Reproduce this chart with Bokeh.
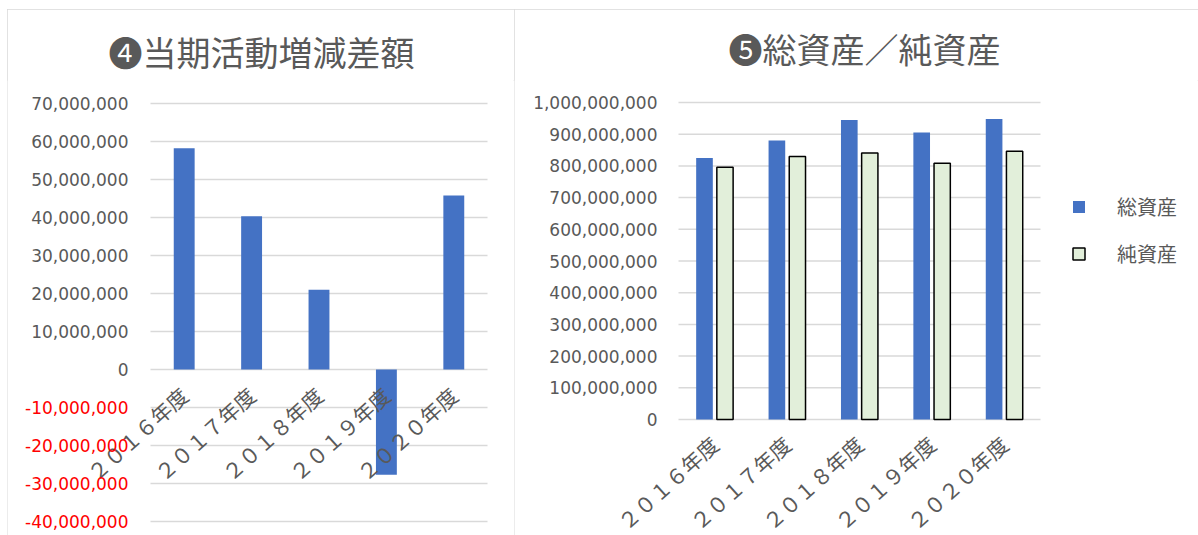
import math
from bokeh.plotting import figure
from bokeh.models import (ColumnDataSource, Range1d, FixedTicker, NumeralTickFormatter,
                          LinearAxis, Legend, LegendItem, Title, Spacer)
from bokeh.layouts import row, column
from bokeh.transform import dodge
from bokeh.embed import file_html
from bokeh.resources import INLINE

# ---------------- data ----------------
years = ["２０１６年度", "２０１７年度", "２０１８年度", "２０１９年度", "２０２０年度"]
activity_diff = [58_250_000, 40_300_000, 21_000_000, -27_700_000, 45_800_000]
total_assets = [825_000_000, 880_000_000, 945_000_000, 905_000_000, 948_000_000]
net_assets = [796_000_000, 830_000_000, 841_000_000, 808_000_000, 846_000_000]
left_ticks = [-40_000_000, -30_000_000, -20_000_000, -10_000_000, 0,
              10_000_000, 20_000_000, 30_000_000, 40_000_000, 50_000_000,
              60_000_000, 70_000_000]
right_ticks = [0, 100_000_000, 200_000_000, 300_000_000, 400_000_000, 500_000_000,
               600_000_000, 700_000_000, 800_000_000, 900_000_000, 1_000_000_000]
title_left = "❹当期活動増減差額"
title_right = "❺総資産／純資産"
legend_labels = ["総資産", "純資産"]

GRAY = "#595959"
GRID = "#D9D9D9"
BLUE = "#4472C4"
GREEN = "#E2EFDA"
NUMFONT = "DejaVu Sans"
JPFONT = "Noto Sans CJK JP"
H = 526          # figure height
TOP = 71         # space reserved for the title
LABEL_ANGLE = math.radians(42)
BOX = {"outline": "1px solid #D9D9D9", "outline-offset": "-1px"}

pos = list(range(1, len(years) + 1))      # category slots 1..n
area_left, area_right = 0.5, len(years) + 0.5


def style_axis(ax, standoff, font, size, color):
    ax.axis_line_color = None
    ax.major_tick_line_color = None
    ax.minor_tick_line_color = None
    ax.major_tick_out = 0
    ax.major_tick_in = 0
    ax.major_label_standoff = standoff
    ax.major_label_text_font = font
    ax.major_label_text_font_size = size
    ax.major_label_text_color = color


def make_frame(width, x_left_px, slot_px, y_top_val, y_bot_val, top_px, bot_px):
    """Figure whose frame fills everything below the title; the plotting
    area of the chart is placed inside through the ranges."""
    frame_h = H - TOP
    ppv = (bot_px - top_px) / (y_top_val - y_bot_val)
    y_end = y_top_val + top_px / ppv
    y_start = y_bot_val - (frame_h - bot_px) / ppv
    x_start = area_left - x_left_px / slot_px
    x_end = x_start + width / slot_px
    p = figure(width=width, height=H, x_range=Range1d(x_start, x_end),
               y_range=Range1d(y_start, y_end), output_backend="svg",
               toolbar_location=None, min_border_left=0, min_border_right=0,
               min_border_top=TOP, min_border_bottom=0)
    p.styles = BOX
    p.outline_line_color = None
    p.xgrid.visible = False
    p.ygrid.visible = False
    return p


def gridlines(p, ticks):
    src = ColumnDataSource(dict(t=ticks))
    p.segment(x0=area_left, x1=area_right, y0="t", y1="t", source=src,
              line_color=GRID, line_width=1.5)


def cat_axis(p, standoff, size):
    ax = p.xaxis[0]
    ax.ticker = FixedTicker(ticks=pos)
    ax.major_label_overrides = {k: v for k, v in zip(pos, years)}
    ax.fixed_location = 0
    ax.major_label_orientation = LABEL_ANGLE
    style_axis(ax, standoff, JPFONT, size, GRAY)


# ---------------- left chart ----------------
# frame y measured from frame top: 70M at 23px, -40M at 441px
p1 = make_frame(507, 143, 67.4, left_ticks[-1], left_ticks[0], 23, 441)
gridlines(p1, left_ticks)
src1 = ColumnDataSource(dict(x=pos, val=activity_diff))
p1.vbar(x="x", top="val", width=0.31, source=src1, fill_color=BLUE, line_color=None)

p1.yaxis.ticker = FixedTicker(ticks=[t for t in left_ticks if t >= 0])
p1.yaxis.formatter = NumeralTickFormatter(format="0,0")
p1.yaxis.fixed_location = area_left
style_axis(p1.yaxis[0], 22, NUMFONT, "17px", GRAY)
neg_axis = LinearAxis(ticker=FixedTicker(ticks=[t for t in left_ticks if t < 0]),
                      formatter=NumeralTickFormatter(format="0,0"),
                      fixed_location=area_left)
style_axis(neg_axis, 22, NUMFONT, "17px", "#FF0000")
p1.add_layout(neg_axis, "left")
cat_axis(p1, 22, "21px")

p1.add_layout(Title(text=title_left, text_font=JPFONT, text_font_size="34px",
                    text_color=GRAY, text_font_style="normal",
                    align="left", offset=101, standoff=10), "above")

# ---------------- right chart ----------------
# frame y measured from frame top: 1,000,000,000 at 22px, 0 at 339px
p2 = make_frame(684, 164, 72.4, right_ticks[-1], right_ticks[0], 22, 339)
gridlines(p2, right_ticks)
src2 = ColumnDataSource(dict(x=pos, total=total_assets, net=net_assets))
r_total = p2.vbar(x=dodge("x", -0.141), top="total", width=0.23, source=src2,
                  fill_color=BLUE, line_color=None)
r_net = p2.vbar(x=dodge("x", 0.142), top="net", width=0.225, source=src2,
                fill_color=GREEN, line_color="black", line_width=1.5)

p2.yaxis.ticker = FixedTicker(ticks=right_ticks)
p2.yaxis.formatter = NumeralTickFormatter(format="0,0")
p2.yaxis.fixed_location = area_left
style_axis(p2.yaxis[0], 21, NUMFONT, "17px", GRAY)
cat_axis(p2, 21, "21px")

legend = Legend(items=[LegendItem(label=legend_labels[0], renderers=[r_total]),
                       LegendItem(label=legend_labels[1], renderers=[r_net])],
                location=(557, 267), border_line_color=None,
                background_fill_alpha=0, padding=0, margin=0,
                glyph_width=15, glyph_height=15, label_standoff=31,
                spacing=18, label_text_font=JPFONT,
                label_text_font_size="20px", label_text_color=GRAY)
p2.add_layout(legend, "center")
p2.add_layout(Title(text=title_right, text_font=JPFONT, text_font_size="34px",
                    text_color=GRAY, text_font_style="normal",
                    align="left", offset=214, standoff=16), "above")

layout = column(Spacer(height=9),
                row(Spacer(width=7), p1, p2, spacing=0), spacing=0)
open("out.html", "w").write(file_html(layout, INLINE))
